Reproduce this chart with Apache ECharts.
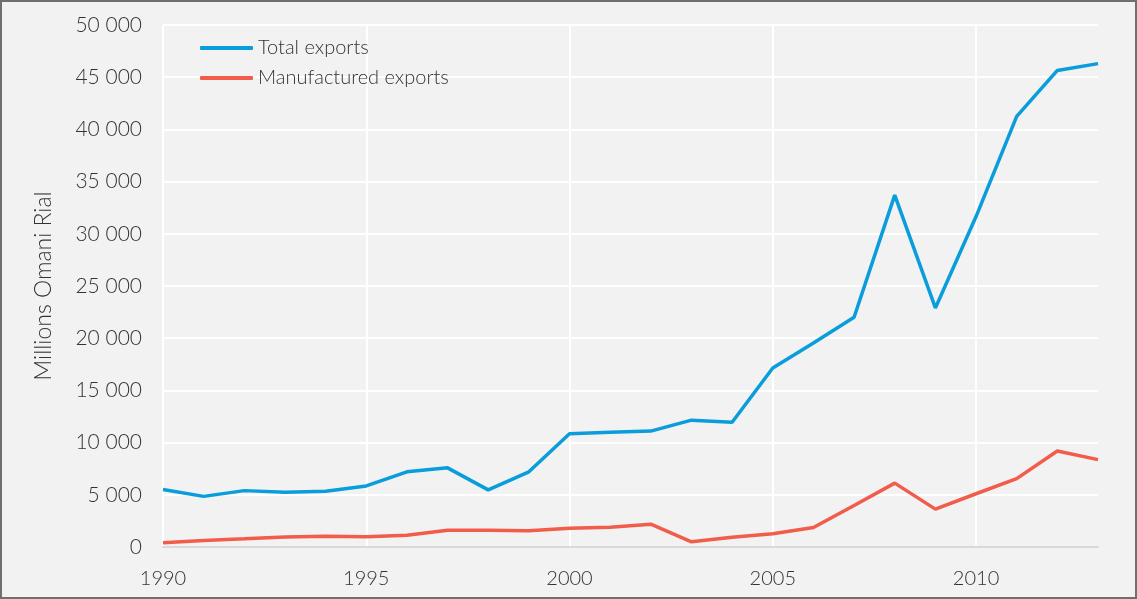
<!DOCTYPE html>
<html>
<head>
<meta charset="utf-8">
<script src="https://cdn.jsdelivr.net/npm/echarts@6/dist/echarts.min.js"></script>
<style>
  html, body { margin: 0; padding: 0; background: #f2f2f2; }
  #chart { position: absolute; left: 0; top: 0; width: 1137px; height: 599px; }
  #frame { position: absolute; left: 0; top: 0; width: 1137px; height: 599px; box-sizing: border-box; border: 2px solid #6f6f6f; pointer-events: none; }
</style>
</head>
<body>
<div id="chart"></div>
<div id="frame"></div>
<script>
// years on the x axis
var years = ['1990','1991','1992','1993','1994','1995','1996','1997','1998','1999','2000','2001',
             '2002','2003','2004','2005','2006','2007','2008','2009','2010','2011','2012','2013'];
// millions of Omani rial
var totalExports = [5500, 4850, 5400, 5250, 5350, 5850, 7200, 7580, 5470, 7200, 10850, 11000,
                    11100, 12150, 11950, 17150, 19550, 22000, 33700, 22900, 31650, 41250, 45650, 46300];
var manufExports = [400, 620, 780, 960, 1040, 980, 1130, 1610, 1610, 1550, 1800, 1900,
                    2190, 500, 940, 1270, 1870, 3980, 6120, 3630, 5100, 6550, 9200, 8370];

var fontFam = 'Lato, "Open Sans", sans-serif';

function spaced(v) {
    return String(v).replace(/\B(?=(\d{3})+(?!\d))/g, ' ');
}

var myChart = echarts.init(document.getElementById('chart'));
myChart.setOption({
    backgroundColor: '#f2f2f2',
    color: ['#0a9ddb', '#f15c4b'],
    animation: false,
    grid: {
        left: 163,
        right: 39,
        top: 25,
        bottom: 52
    },
    legend: {
        orient: 'vertical',
        left: 195,
        top: 33,
        icon: 'roundRect',
        itemWidth: 53,
        itemHeight: 4,
        itemGap: 10,
        data: ['Total exports', 'Manufactured exports'],
        textStyle: {
            fontFamily: fontFam,
            fontWeight: 300,
            fontSize: 20,
            color: '#333'
        }
    },
    xAxis: {
        type: 'category',
        boundaryGap: false,
        data: years,
        axisTick: { show: false },
        axisLine: {
            lineStyle: { color: '#d9d9d9', width: 2 }
        },
        axisLabel: {
            interval: 4,
            margin: 22,
            fontFamily: fontFam,
            fontWeight: 300,
            fontSize: 20,
            color: '#333'
        },
        splitLine: {
            show: true,
            interval: 4,
            lineStyle: { color: '#ffffff', width: 2 }
        }
    },
    yAxis: {
        type: 'value',
        min: 0,
        max: 50000,
        interval: 5000,
        name: 'Millions Omani Rial',
        nameLocation: 'middle',
        nameGap: 108,
        nameTextStyle: {
            fontFamily: fontFam,
            fontWeight: 300,
            fontSize: 23,
            color: '#333'
        },
        axisLine: { show: false },
        axisTick: { show: false },
        axisLabel: {
            margin: 21,
            formatter: spaced,
            fontFamily: fontFam,
            fontWeight: 300,
            fontSize: 21,
            color: '#333'
        },
        splitLine: {
            lineStyle: { color: '#ffffff', width: 2 }
        }
    },
    series: [
        {
            name: 'Total exports',
            type: 'line',
            data: totalExports,
            symbol: 'none',
            lineStyle: { width: 3.5 }
        },
        {
            name: 'Manufactured exports',
            type: 'line',
            data: manufExports,
            symbol: 'none',
            lineStyle: { width: 3.5 }
        }
    ]
});
</script>
</body>
</html>
